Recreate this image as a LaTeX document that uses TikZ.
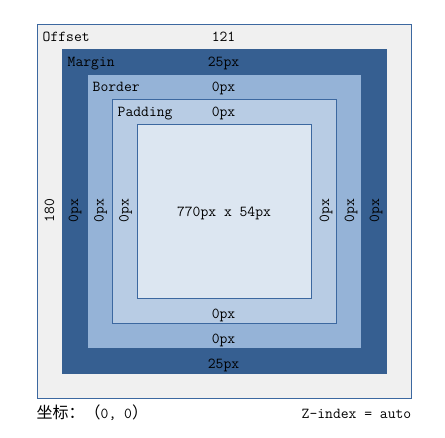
\documentclass[tikz,border=0pt]{standalone}
\usepackage{fontspec}
\newfontfamily\cjk{Noto Sans CJK SC}
\definecolor{offsetc}{HTML}{F0F0F0}
\definecolor{marginc}{HTML}{365F91}
\definecolor{borderc}{HTML}{95B3D7}
\definecolor{padc}{HTML}{B8CCE4}
\definecolor{contc}{HTML}{DCE6F1}
\definecolor{linec}{HTML}{3C68A0}
\begin{document}
\begin{tikzpicture}[x=1pt,y=-1pt,
  lbl/.style={inner sep=0pt, font=\ttfamily\fontsize{15.2}{18}\selectfont, text=black},
  vlbl/.style={lbl, rotate=90},
  outl/.style={draw=linec, line width=1pt}]
\useasboundingbox (0,0) rectangle (445,438);
% boxes
\draw[outl, fill=offsetc] (37.5,24.5) rectangle (411.5,398.5);
\fill[marginc] (62,49) rectangle (387,374);
\fill[borderc] (88,75) rectangle (361,348);
\draw[outl, fill=padc] (112.5,99.5) rectangle (336.5,323.5);
\draw[outl, fill=contc] (137.5,124.5) rectangle (311.5,298.5);
% top labels
\node[lbl, anchor=base west] (offsetname) at (42.5,41.7) {Offset};
\node[lbl, anchor=base] (offsettop) at (223.5,41.7) {121};
\node[lbl, anchor=base west] (marginname) at (67.5,66.7) {Margin};
\node[lbl, anchor=base] (margintop) at (223.5,66.7) {25px};
\node[lbl, anchor=base west] (bordername) at (92.5,91.7) {Border};
\node[lbl, anchor=base] (bordertop) at (223.5,91.7) {0px};
\node[lbl, anchor=base west] (paddingname) at (117.5,116.7) {Padding};
\node[lbl, anchor=base] (paddingtop) at (223.5,116.7) {0px};
% content
\node[lbl, anchor=base] (content) at (224,216.7) {770px x 54px};
% bottom labels
\node[lbl, anchor=base] (paddingbot) at (223.5,318.3) {0px};
\node[lbl, anchor=base] (borderbot) at (223.5,343.3) {0px};
\node[lbl, anchor=base] (marginbot) at (223.5,368.3) {25px};
% side labels
\node[vlbl] (offsetleft) at (49.5,210.5) {180};
\node[vlbl] (marginleft) at (75,210.5) {0px};
\node[vlbl] (borderleft) at (100.5,210.5) {0px};
\node[vlbl] (paddingleft) at (125.5,210.5) {0px};
\node[vlbl] (paddingright) at (326,210.5) {0px};
\node[vlbl] (borderright) at (351,210.5) {0px};
\node[vlbl] (marginright) at (376,210.5) {0px};
% footer
\node[lbl, anchor=base west] (coords) at (36.5,419) {{\cjk\fontsize{16}{18}\selectfont 坐标：（}0, 0{\cjk\fontsize{16}{18}\selectfont ）}};
\node[lbl, anchor=base east] (zindex) at (411.5,419) {Z-index = auto};
\end{tikzpicture}
\end{document}
